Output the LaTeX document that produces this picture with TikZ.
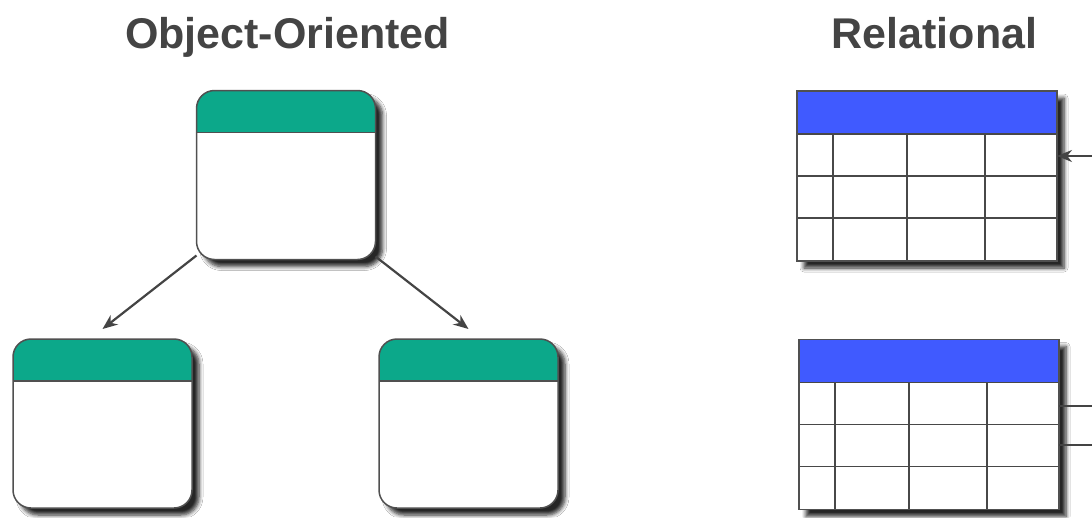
\documentclass[tikz,border=0pt]{standalone}
\usepackage{fontspec}
\newfontfamily\headfont{Liberation Sans}
\usetikzlibrary{arrows.meta,shadows.blur}

\definecolor{headteal}{RGB}{12,168,138}
\definecolor{headblue}{RGB}{64,90,255}
\definecolor{inkgray}{RGB}{68,68,68}
\definecolor{edgegray}{RGB}{80,80,80}

\tikzset{
  title/.style={font=\headfont\bfseries\fontsize{43}{48}\selectfont, text=inkgray, anchor=base, inner sep=0},
  softshadow/.style={blur shadow={shadow xshift=7pt, shadow yshift=-7pt,
      shadow blur radius=4pt, shadow blur steps=6, shadow opacity=85}},
  objbox/.style={rectangle, rounded corners=18pt, minimum width=179pt,
      minimum height=169pt, inner sep=0, outer sep=0, fill=white, softshadow},
  tablebox/.style={rectangle, minimum width=260pt, minimum height=170pt,
      inner sep=0, outer sep=0, fill=white, softshadow},
  edge/.style={draw=edgegray, line width=1.5pt},
  grid/.style={draw=edgegray!90!black, line width=1.4pt},
  link/.style={draw=inkgray, line width=2.2pt},
  linkarrow/.style={link, -{Stealth[length=15pt, width=12pt]}},
}

% draws the teal header band and outline of an object box
\newcommand{\objheader}[1]{%
  \begin{scope}
    \clip[rounded corners=18pt] (#1.south west) rectangle (#1.north east);
    \fill[headteal] (#1.north west) rectangle ([yshift=-42pt]#1.north east);
  \end{scope}
  \draw[edge] ([yshift=-42pt]#1.north west) -- ([yshift=-42pt]#1.north east);
  \draw[edge, rounded corners=18pt] (#1.south west) rectangle (#1.north east);
}

% draws the blue header band, grid and outline of a table
\newcommand{\tablegrid}[1]{%
  \begin{scope}[shift={(#1.north west)}]
    \fill[headblue] (0,0) rectangle (260,43);
    \draw[grid] (0,43) -- (260,43) (0,85) -- (260,85) (0,127) -- (260,127);
    \draw[grid] (36,43) -- (36,170) (110,43) -- (110,170) (188,43) -- (188,170);
  \end{scope}
  \draw[edge] (#1.south west) rectangle (#1.north east);
}

\begin{document}
\begin{tikzpicture}[x=1pt, y=-1pt]
  \useasboundingbox[fill=white] (0,0) rectangle (1092,517);

  % headings
  \node[title] (ootitle) at (287.5,48) {Object-Oriented};
  \node[title] (reltitle) at (934.5,48) {Relational};

  % object-oriented side
  \node[objbox] (parent) at (286,175) {};
  \node[objbox] (childl) at (102.5,423.5) {};
  \node[objbox] (childr) at (468.5,423.5) {};
  \objheader{parent}
  \objheader{childl}
  \objheader{childr}

  \draw[linkarrow] ([yshift=4pt]parent.south west) -- ([yshift=10pt]childl.north);
  \draw[linkarrow] ([yshift=3pt]parent.south east) -- ([yshift=10pt]childr.north);

  % relational side
  \node[tablebox] (tabA) at (927,176) {};
  \node[tablebox] (tabB) at (929,424.5) {};
  \tablegrid{tabA}
  \tablegrid{tabB}

  \coordinate (inA) at (1092,156);
  \coordinate (outB1) at (1092,406);
  \coordinate (outB2) at (1092,445);
  \draw[linkarrow] (inA) -- (inA -| tabA.east);
  \draw[link] (tabB.east |- outB1) -- (outB1);
  \draw[link] (tabB.east |- outB2) -- (outB2);
\end{tikzpicture}
\end{document}
